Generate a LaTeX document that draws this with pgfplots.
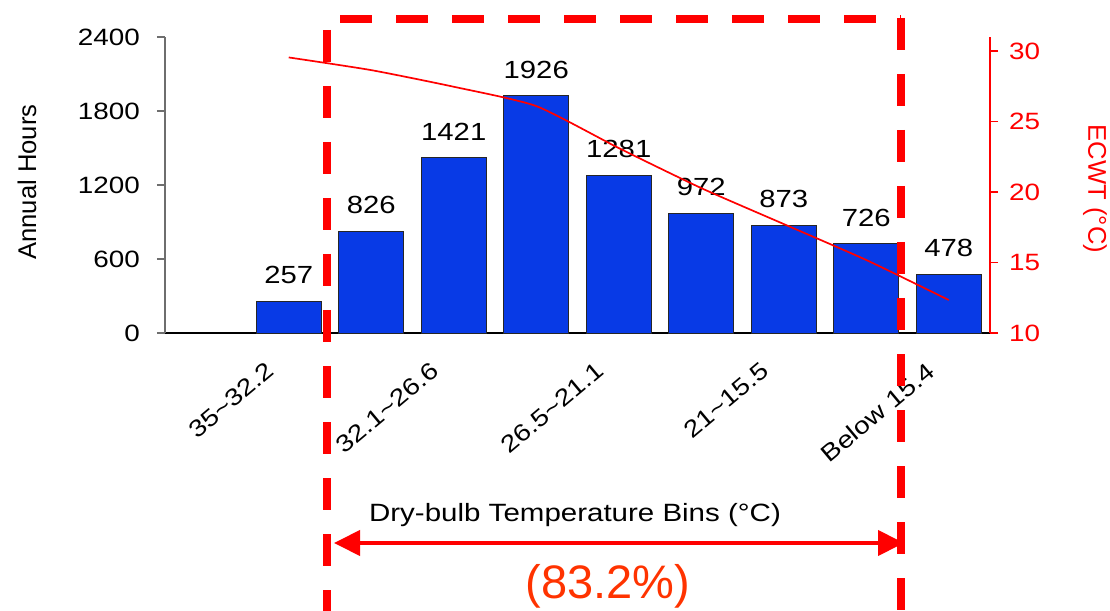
\documentclass[border=0pt]{standalone}
\usepackage{fontspec}
\setmainfont{Liberation Sans}
\newfontfamily\sw{Liberation Sans}[FakeStretch=1.18]
\usepackage{pgfplots}
\pgfplotsset{compat=1.18}
\usetikzlibrary{arrows.meta}
\definecolor{barblue}{RGB}{8,58,230}
\definecolor{axgray}{RGB}{110,110,110}
\definecolor{pctred}{RGB}{255,51,0}

\begin{document}
\begin{tikzpicture}
% annual hours per dry-bulb bin
\begin{axis}[
  at={(0pt,0pt)}, anchor=south west,
  scale only axis, width=412.5pt, height=148pt,
  xmin=-0.5, xmax=9.5, ymin=0, ymax=2400,
  axis x line*=bottom, axis y line*=left,
  x axis line style={-, black, line width=0.6pt},
  y axis line style={-, axgray, line width=0.6pt},
  xtick={1,3,5,7,9},
  xticklabels={35\textasciitilde32.2, 32.1\textasciitilde26.6, 26.5\textasciitilde21.1, 21\textasciitilde15.5, Below 15.4},
  x tick style={draw=none},
  ytick={0,600,1200,1800,2400},
  y tick style={axgray, line width=0.6pt},
  tick align=outside, major tick length=4pt,
  /pgf/number format/assume math mode=true,
  /pgf/number format/1000 sep={},
  yticklabel style={font=\sw\fontsize{11.8}{14}\selectfont, xshift=-5pt},
  xticklabel style={rotate=40, anchor=north east, font=\sw\fontsize{11.9}{14}\selectfont, xshift=-12pt, yshift=3.5pt},
  ylabel={Annual Hours},
  ylabel style={at={(axis description cs:-0.1673,0.51)}, anchor=center, font=\fontsize{12.8}{15}\selectfont},
]
\addplot[ybar, bar width=32.5pt, fill=barblue, draw=black!85, line width=0.5pt,
  nodes near coords,
  every node near coord/.append style={font=\sw\fontsize{12.4}{14}\selectfont, text=black, yshift=5pt}]
  coordinates {(1,257) (2,826) (3,1421) (4,1926) (5,1281) (6,972) (7,873) (8,726) (9,478)};
\end{axis}
% ECWT on the right axis
\begin{axis}[
  at={(0pt,0pt)}, anchor=south west,
  scale only axis, width=412.5pt, height=148pt,
  xmin=-0.5, xmax=9.5, ymin=10, ymax=31,
  axis x line=none, axis y line*=right,
  xtick=\empty,
  y axis line style={-, red, line width=0.6pt},
  ytick={10,15,20,25,30},
  y tick style={red, line width=0.6pt},
  tick align=outside, major tick length=4pt,
  /pgf/number format/assume math mode=true,
  yticklabel style={red, font=\sw\fontsize{11.8}{14}\selectfont, xshift=2pt},
  ylabel={ECWT (°C)},
  ylabel style={red, at={(axis description cs:1.1273,0.4865)}, anchor=center, rotate=180, font=\fontsize{12.8}{15}\selectfont},
]
\addplot[red, line width=0.85pt, smooth, tension=0.35]
  coordinates {(1,29.55) (2,28.65) (3,27.47) (4,26.1) (5,23.12) (6,20.28) (7,17.73) (8,15.18) (9,12.34)};
\end{axis}
% annotations, in pixel units of the reference
\begin{scope}[x=0.5pt, y=-0.5pt, shift={(-82.5pt,166.5pt)}]
  \draw[red, line width=4pt, dash pattern=on 16pt off 12pt] (340,19) -- (901,19);
  \draw[red, line width=4pt, dash pattern=on 16pt off 12pt] (327,30) -- (327,640);
  \draw[red, line width=4pt, dash pattern=on 16pt off 12pt] (901,18) -- (901,640);
  \draw[red, line width=2pt, {Triangle[length=13pt,width=12.5pt]}-{Triangle[length=13pt,width=12.5pt]}] (334,543) -- (904,543);
  \node[font=\sw\fontsize{12.5}{15}\selectfont] at (575,515) {Dry-bulb Temperature Bins (°C)};
  \node[font=\fontsize{23.5}{28}\selectfont, text=pctred] at (608,586) {(83.2\%)};
  \pgfresetboundingbox
  \path[use as bounding box] (0,0) rectangle (1110,611);
\end{scope}
\end{tikzpicture}
\end{document}
